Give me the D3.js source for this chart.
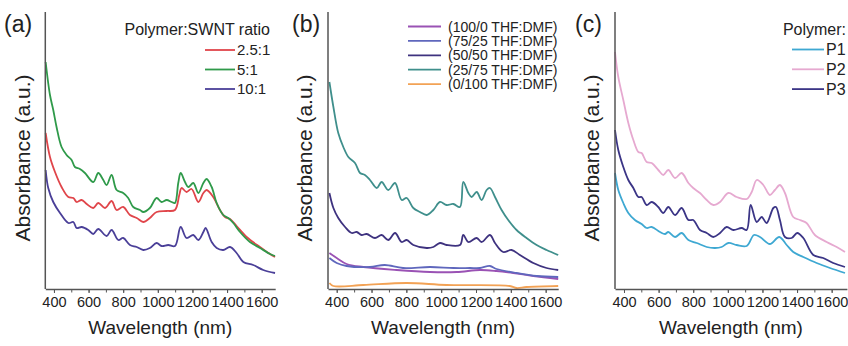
<!DOCTYPE html>
<html>
<head>
<meta charset="utf-8">
<script src="https://cdn.jsdelivr.net/npm/d3@7"></script>
<style>
  body { margin: 0; background: #fff; }
  svg text { font-family: "Liberation Sans", Arial, sans-serif; fill: #222; }
</style>
</head>
<body>
<div id="container"></div>
<script>
// Chart size
const width = 848;
const height = 346;

// Tick labels (nm)
const tickValues = [400, 600, 800, 1000, 1200, 1400, 1600];
const minorTicks = [400, 500, 600, 700, 800, 900, 1000, 1100, 1200, 1300, 1400, 1500, 1600];

// Panel (a): polymer:SWNT ratio, [wavelength nm, absorbance a.u.]
const ratio25 = [[352,1.56],[377,1.32],[406,1.17],[444,1.02],[483,0.92],[512,0.91],[531,0.87],[560,0.89],[589,0.85],[627,0.81],[656,0.86],[695,0.81],[733,0.88],[762,0.79],[800,0.82],[839,0.74],[878,0.71],[916,0.67],[954,0.71],[993,0.77],[1051,0.78],[1099,0.79],[1124,0.94],[1137,1.01],[1166,0.97],[1195,1.00],[1234,0.87],[1263,0.96],[1282,0.99],[1320,0.92],[1359,0.79],[1388,0.72],[1417,0.70],[1455,0.63],[1513,0.52],[1590,0.42],[1648,0.35],[1677,0.32]];
const ratio5 = [[352,2.27],[377,1.94],[396,1.79],[415,1.62],[444,1.42],[473,1.34],[502,1.29],[521,1.22],[550,1.20],[579,1.16],[627,1.07],[656,1.16],[685,1.09],[704,1.04],[733,1.14],[762,0.99],[800,0.96],[829,0.91],[858,0.82],[897,0.79],[916,0.77],[954,0.81],[993,0.91],[1022,0.87],[1051,0.89],[1080,0.87],[1099,0.86],[1118,1.06],[1132,1.16],[1157,1.07],[1176,1.02],[1205,1.06],[1234,0.96],[1263,1.06],[1282,1.10],[1311,1.02],[1340,0.86],[1378,0.74],[1407,0.71],[1436,0.66],[1475,0.57],[1532,0.47],[1590,0.41],[1648,0.35],[1677,0.33]];
const ratio10 = [[352,1.19],[367,1.01],[396,0.87],[435,0.76],[483,0.66],[512,0.67],[531,0.61],[560,0.62],[598,0.59],[627,0.55],[656,0.60],[704,0.53],[733,0.59],[772,0.49],[800,0.51],[839,0.44],[878,0.42],[916,0.39],[954,0.41],[993,0.46],[1022,0.43],[1060,0.44],[1099,0.43],[1132,0.62],[1166,0.51],[1205,0.54],[1234,0.49],[1263,0.57],[1276,0.61],[1311,0.47],[1340,0.41],[1378,0.39],[1417,0.42],[1455,0.36],[1494,0.27],[1551,0.24],[1609,0.19],[1677,0.16]];

// Panel (b): THF:DMF solvent mix
const thf100 = [[358,0.36],[400,0.31],[457,0.25],[553,0.22],[744,0.19],[936,0.17],[1089,0.17],[1223,0.19],[1318,0.18],[1414,0.16],[1529,0.13],[1672,0.10]];
const thf75 = [[358,0.31],[400,0.26],[457,0.23],[591,0.22],[676,0.24],[781,0.21],[936,0.22],[1070,0.21],[1166,0.21],[1223,0.21],[1280,0.23],[1318,0.20],[1433,0.16],[1548,0.13],[1672,0.12]];
const thf50 = [[358,0.96],[381,0.81],[409,0.71],[448,0.62],[486,0.56],[515,0.57],[543,0.54],[572,0.55],[620,0.51],[658,0.54],[696,0.49],[735,0.56],[773,0.47],[802,0.49],[840,0.44],[917,0.41],[955,0.42],[993,0.46],[1031,0.44],[1108,0.44],[1127,0.54],[1156,0.47],[1204,0.51],[1232,0.47],[1280,0.54],[1309,0.46],[1356,0.37],[1404,0.39],[1452,0.34],[1529,0.26],[1605,0.21],[1672,0.19]];
const thf25 = [[358,2.07],[381,1.82],[409,1.56],[438,1.42],[467,1.32],[505,1.26],[534,1.16],[562,1.14],[591,1.09],[630,1.01],[658,1.07],[696,0.99],[735,1.06],[773,0.89],[802,0.91],[840,0.81],[878,0.77],[917,0.74],[955,0.79],[993,0.87],[1031,0.84],[1070,0.85],[1108,0.82],[1127,1.07],[1156,0.96],[1175,0.92],[1204,0.97],[1232,0.89],[1261,0.99],[1280,1.01],[1309,0.92],[1347,0.79],[1385,0.69],[1433,0.59],[1490,0.51],[1548,0.44],[1605,0.39],[1672,0.34]];
const thf0 = [[358,0.06],[381,0.03],[553,0.04],[802,0.06],[1031,0.04],[1394,0.03],[1433,0.01],[1490,0.02],[1672,0.03]];

// Panel (c): polymer type
const p1 = [[348,1.16],[367,0.99],[396,0.86],[425,0.76],[463,0.69],[502,0.65],[531,0.61],[560,0.62],[608,0.57],[637,0.55],[656,0.57],[695,0.52],[733,0.56],[772,0.49],[820,0.46],[878,0.42],[926,0.41],[964,0.42],[1003,0.46],[1051,0.44],[1109,0.43],[1151,0.54],[1186,0.52],[1243,0.45],[1297,0.52],[1340,0.44],[1378,0.37],[1436,0.32],[1513,0.26],[1590,0.21],[1677,0.16]];
const p2 = [[348,2.37],[367,2.12],[396,1.89],[425,1.66],[454,1.49],[483,1.37],[502,1.36],[531,1.27],[560,1.26],[598,1.19],[627,1.14],[656,1.19],[695,1.11],[733,1.16],[772,1.06],[800,1.01],[839,0.96],[878,0.89],[916,0.84],[955,0.87],[1003,0.96],[1051,0.92],[1109,0.90],[1138,0.97],[1167,1.09],[1205,1.04],[1243,0.94],[1272,0.99],[1301,1.04],[1330,0.96],[1378,0.72],[1417,0.69],[1455,0.66],[1503,0.54],[1571,0.47],[1629,0.42],[1677,0.37]];
const p3 = [[348,1.59],[367,1.39],[396,1.22],[425,1.09],[454,1.01],[483,0.92],[502,0.92],[531,0.84],[560,0.87],[598,0.82],[627,0.76],[656,0.82],[695,0.74],[733,0.81],[772,0.69],[800,0.69],[839,0.59],[878,0.56],[916,0.52],[955,0.56],[993,0.62],[1032,0.59],[1080,0.61],[1109,0.59],[1132,0.84],[1167,0.67],[1196,0.72],[1224,0.66],[1263,0.81],[1278,0.82],[1301,0.69],[1330,0.52],[1369,0.51],[1401,0.56],[1436,0.51],[1494,0.34],[1551,0.31],[1609,0.26],[1677,0.22]];

const panels = [
  {
    label: "(a)", labelX: 4, ylabelX: 23, left: 45.3, right: 275.2, domain: [350, 1678],
    title: "Polymer:SWNT ratio", titleX: 270, titleY: 35, titleAnchor: "end",
    legX: 205, legY: 50, legStep: 19.5, legLen: 30, legFont: 15,
    series: [
      {name: "2.5:1", data: ratio25, color: "#e0454a"},
      {name: "5:1", data: ratio5, color: "#2f9a4a"},
      {name: "10:1", data: ratio10, color: "#4a3f98"}
    ]
  },
  {
    label: "(b)", labelX: 292, ylabelX: 305, left: 328, right: 558.2, domain: [350, 1672],
    title: null,
    legX: 408, legY: 26.5, legStep: 14.4, legLen: 33, legFont: 14,
    series: [
      {name: "(100/0 THF:DMF)", data: thf100, color: "#9a52b4"},
      {name: "(75/25 THF:DMF)", data: thf75, color: "#5f67bd"},
      {name: "(50/50 THF:DMF)", data: thf50, color: "#3e327f"},
      {name: "(25/75 THF:DMF)", data: thf25, color: "#3f8f8c"},
      {name: "(0/100 THF:DMF)", data: thf0, color: "#f2a255"}
    ]
  },
  {
    label: "(c)", labelX: 575, ylabelX: 592, left: 615, right: 846.9, domain: [348, 1688],
    title: "Polymer:", titleX: 846, titleY: 35, titleAnchor: "end",
    legX: 792, legY: 49.5, legStep: 19.8, legLen: 32, legFont: 16,
    series: [
      {name: "P1", data: p1, color: "#3ea8d2"},
      {name: "P2", data: p2, color: "#e6a9d0"},
      {name: "P3", data: p3, color: "#3b3586"}
    ]
  }
];

const plotTop = 12;
const plotBottom = 289;

// Shared absorbance scale (arbitrary units)
const y = d3.scaleLinear()
  .domain([0, 2.77])
  .range([plotBottom, plotTop]);

const svg = d3.select("#container").append("svg")
  .attr("width", width)
  .attr("height", height)
  .style("display", "block");

panels.forEach(p => {
  const x = d3.scaleLinear()
    .domain(p.domain)
    .range([p.left, p.right]);

  const g = svg.append("g");

  // curves
  const line = d3.line()
    .x(d => x(d[0]))
    .y(d => y(d[1]))
    .curve(d3.curveCatmullRom.alpha(0.5));

  g.selectAll(".curve")
    .data(p.series)
    .join("path")
      .attr("class", "curve")
      .attr("fill", "none")
      .attr("stroke", d => d.color)
      .attr("stroke-width", 1.8)
      .attr("stroke-linejoin", "round")
      .attr("d", d => line(d.data));

  // minor ticks
  g.append("g")
    .attr("transform", `translate(0,${plotBottom})`)
    .call(d3.axisBottom(x).tickValues(minorTicks).tickSize(3.5).tickFormat(""))
    .call(a => a.select(".domain").remove())
    .call(a => a.selectAll("line").attr("stroke", "#555").attr("stroke-width", 1));

  // x-axis
  g.append("g")
    .attr("transform", `translate(0,${plotBottom})`)
    .call(d3.axisBottom(x).tickValues(tickValues).tickFormat(d3.format("d"))
      .tickSize(4).tickSizeOuter(0).tickPadding(4))
    .call(a => a.select(".domain").attr("stroke", "#555").attr("stroke-width", 1.5))
    .call(a => a.selectAll("line").attr("stroke", "#555"))
    .call(a => a.selectAll("text")
      .attr("font-size", 14.5)
      .style("font-family", "'Liberation Sans', Arial, sans-serif")
      .attr("fill", "#222"));

  // y-axis (no ticks)
  g.append("line")
    .attr("x1", p.left).attr("x2", p.left)
    .attr("y1", plotTop).attr("y2", plotBottom)
    .attr("stroke", "#555")
    .attr("stroke-width", 1.5);

  // axis labels
  g.append("text")
    .attr("x", (p.left + p.right) / 2)
    .attr("y", 334)
    .attr("text-anchor", "middle")
    .attr("font-size", 19)
    .text("Wavelength (nm)");

  g.append("text")
    .attr("transform", `translate(${p.ylabelX},158) rotate(-90)`)
    .attr("text-anchor", "middle")
    .attr("dy", "0.35em")
    .attr("font-size", 21)
    .text("Absorbance (a.u.)");

  // panel label
  g.append("text")
    .attr("x", p.labelX)
    .attr("y", 32)
    .attr("font-size", 23)
    .text(p.label);

  // legend
  if (p.title) {
    g.append("text")
      .attr("x", p.titleX)
      .attr("y", p.titleY)
      .attr("text-anchor", p.titleAnchor)
      .attr("font-size", 16)
      .text(p.title);
  }

  const leg = g.selectAll(".leg")
    .data(p.series)
    .join("g")
      .attr("class", "leg")
      .attr("transform", (d, i) => `translate(${p.legX},${p.legY + i * p.legStep})`);

  leg.append("line")
    .attr("x1", 0).attr("x2", p.legLen)
    .attr("stroke", d => d.color)
    .attr("stroke-width", 1.8);

  leg.append("text")
    .attr("x", p.legLen + (p.legFont === 14 ? 7 : 2))
    .attr("dy", "0.36em")
    .attr("font-size", p.legFont)
    .text(d => d.name);
});
</script>
</body>
</html>
